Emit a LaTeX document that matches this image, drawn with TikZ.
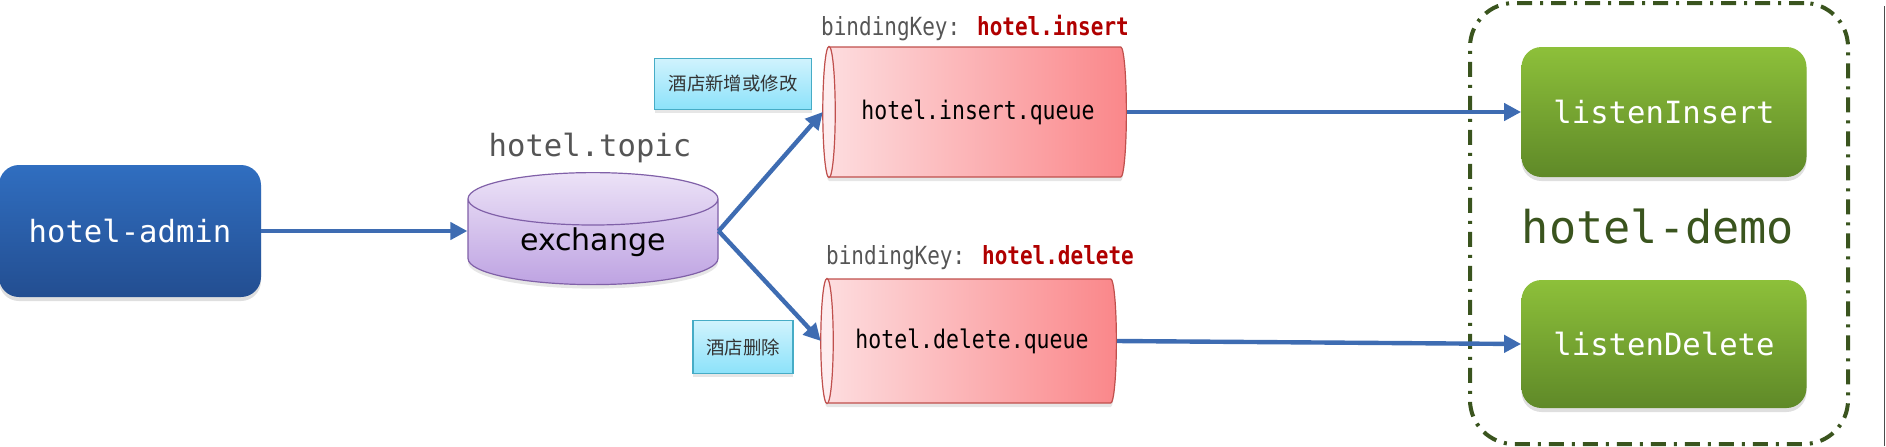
\documentclass[tikz,border=0pt]{standalone}
\usepackage{fontspec}
\usepackage{tikz}
\usepackage{xcolor}
\setmonofont{DejaVu Sans Mono}
\setsansfont{DejaVu Sans}
\newfontfamily\narrowmono[FakeStretch=0.84]{DejaVu Sans Mono}
\newfontfamily\cjk{Noto Sans CJK SC}
\usetikzlibrary{
    arrows.meta,
    shapes.geometric,
    shadows,
    calc,
    positioning
}

\definecolor{admintop}{RGB}{48,110,192}
\definecolor{adminbot}{RGB}{35,78,145}
\definecolor{extop}{RGB}{236,226,247}
\definecolor{exbot}{RGB}{190,163,226}
\definecolor{exline}{RGB}{128,96,168}
\definecolor{qleft}{RGB}{253,222,224}
\definecolor{qright}{RGB}{250,135,138}
\definecolor{qline}{RGB}{192,80,77}
\definecolor{qface}{RGB}{254,236,238}
\definecolor{tagtop}{RGB}{208,243,253}
\definecolor{tagbot}{RGB}{140,226,250}
\definecolor{tagline}{RGB}{70,172,198}
\definecolor{listentop}{RGB}{141,192,58}
\definecolor{listenbot}{RGB}{95,137,40}
\definecolor{demogreen}{RGB}{58,84,30}
\definecolor{flowblue}{RGB}{62,108,178}
\definecolor{keyred}{RGB}{176,0,0}
\definecolor{keygray}{RGB}{85,85,85}

\begin{document}
\begin{tikzpicture}[x=0.5pt, y=-0.5pt,
    flow/.style={draw=flowblue, line width=2.2pt, -{Triangle[length=8.5pt, width=8.5pt]}},
    appbox/.style={rectangle, rounded corners=10pt, text=white, font=\ttfamily\fontsize{15.3}{18}\selectfont,
        drop shadow={opacity=0.25, shadow xshift=0pt, shadow yshift=-2pt}},
    queue/.style={cylinder, shape border rotate=180, aspect=0.45, draw=qline, line width=0.6pt,
        left color=qleft, right color=qright, inner sep=0pt, font=\narrowmono\fontsize{12.8}{15}\selectfont,
        drop shadow={opacity=0.2, shadow xshift=0pt, shadow yshift=-2pt}},
    face/.style={fill=qface, draw=qline, line width=0.6pt},
    tag/.style={rectangle, draw=tagline, line width=0.6pt, top color=tagtop, bottom color=tagbot,
        font=\cjk\fontsize{9.2}{11}\selectfont, text=black!80, inner sep=0pt,
        drop shadow={opacity=0.2, shadow xshift=0pt, shadow yshift=-1.5pt}},
    keylabel/.style={font=\narrowmono\fontsize{12.5}{15}\selectfont, text=keygray}
]
\useasboundingbox (0,0) rectangle (1886,446);

% publisher
\node[appbox, top color=admintop, bottom color=adminbot, minimum width=131pt, minimum height=66pt] (admin) at (130,231) {hotel-admin};

% exchange
\node[cylinder, shape border rotate=90, aspect=0.36, draw=exline, line width=0.6pt,
    top color=extop, bottom color=exbot, minimum width=125pt, minimum height=56pt, inner sep=0pt,
    drop shadow={opacity=0.2, shadow xshift=0pt, shadow yshift=-2pt},
    font=\sffamily\fontsize{15}{18}\selectfont] (ex) at (593,242) {exchange};
\node[font=\ttfamily\fontsize{15.3}{18}\selectfont, text=keygray] (topic) at (590,148) {hotel.topic};
\coordinate (exin) at (ex.west |- admin.east);
\coordinate (exout) at (ex.east |- admin.east);

% queues
\node[queue, minimum width=65pt, minimum height=151.5pt] (qins) at (978,112) {hotel.insert.queue};
\node[queue, minimum width=62pt, minimum height=147.5pt] (qdel) at (972,341) {hotel.delete.queue};
\foreach \q in {qins, qdel}
    \filldraw[face] let \p1=($(\q.before top)!.5!(\q.after top)$), \p2=(\q.top), \p3=(\q.before top)
        in (\p1) ellipse [x radius={abs(\x2-\x1)}, y radius={abs(\y3-\y1)}];
\node[keylabel] (keyins) at (975,28) {bindingKey: \textcolor{keyred}{\bfseries hotel.insert}};
\node[keylabel] (keydel) at (980,258) {bindingKey: \textcolor{keyred}{\bfseries hotel.delete}};

% routing tags
\node[tag, minimum width=78.5pt, minimum height=25.5pt] (tagins) at (733,84) {酒店新增或修改};
\node[tag, minimum width=50pt, minimum height=26.5pt] (tagdel) at (743,347) {酒店删除};

% consumer
\node[draw=demogreen, line width=2pt, rounded corners=22pt, dash pattern=on 7.5pt off 4pt on 1.5pt off 4pt,
    minimum width=189pt, minimum height=220.5pt] (demo) at (1659,223.5) {};
\node[font=\ttfamily\fontsize{22.6}{26}\selectfont, text=demogreen] (demotext) at (1658,227) {hotel-demo};
\node[appbox, top color=listentop, bottom color=listenbot, minimum width=142.5pt, minimum height=65pt] (lins) at (1664,112) {listenInsert};
\node[appbox, top color=listentop, bottom color=listenbot, minimum width=142.5pt, minimum height=64pt] (ldel) at (1664,344) {listenDelete};

\draw[flow] (admin.east) -- (exin);
\draw[flow] (exout) -- (qins.west);
\draw[flow] (exout) -- (qdel.west);
\draw[flow] (qins.east) -- (lins.west);
\draw[flow] (qdel.east) -- (ldel.west);

\draw[black!70, line width=0.5pt] (1884,6) -- (1884,446);
\end{tikzpicture}
\end{document}
